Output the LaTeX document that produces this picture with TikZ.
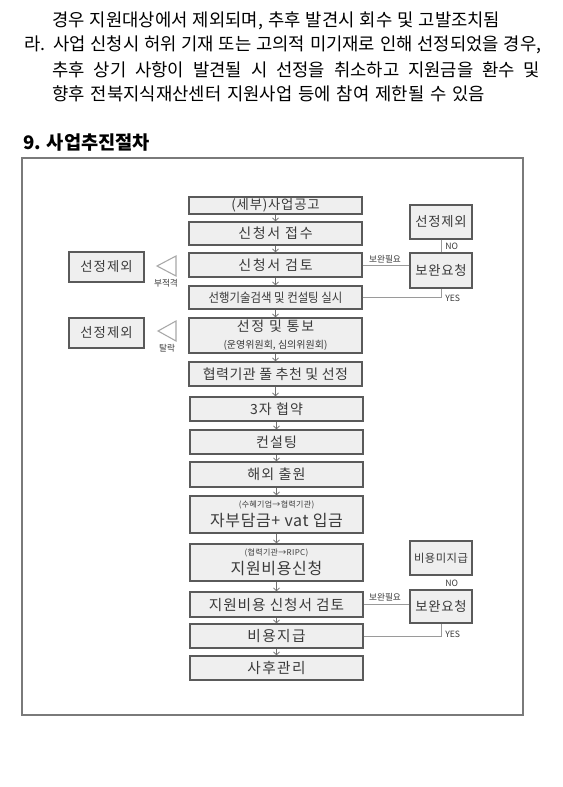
\documentclass[tikz,border=0pt]{standalone}
\usepackage{fontspec}
\setmainfont{Noto Sans CJK KR}
\usetikzlibrary{arrows.meta}
\definecolor{boxfill}{HTML}{EFEFEF}
\definecolor{boxline}{HTML}{5A5A5A}
\definecolor{txt}{HTML}{3A3A3A}
\definecolor{connc}{HTML}{9A9A9A}
\definecolor{arrc}{HTML}{707070}
\definecolor{tric}{HTML}{A8A8A8}
\definecolor{framec}{HTML}{7A7A7A}
\newcommand{\bodyf}{\fontsize{13.3}{15}\selectfont}
\newcommand{\boxf}{\fontsize{10.5}{12}\selectfont\addfontfeature{LetterSpace=8}}
\begin{document}
\begin{tikzpicture}[x=0.75pt,y=-0.75pt,
  mbox/.style={draw=boxline, fill=boxfill, line width=0.9pt, minimum width=173*0.75pt, inner sep=0pt, text=txt, align=center, font=\boxf},
  sbox/.style={draw=boxline, fill=boxfill, line width=0.9pt, minimum width=62*0.75pt, inner sep=0pt, text=txt, font=\fontsize{10}{11}\selectfont\addfontfeature{LetterSpace=6}},
  lbox/.style={draw=boxline, fill=boxfill, line width=0.9pt, minimum width=75*0.75pt, inner sep=0pt, text=txt, font=\fontsize{10}{11}\selectfont\addfontfeature{LetterSpace=8}},
  arr/.style={-{Straight Barb[length=2.2pt,width=4.5pt]}, draw=arrc, line width=0.6pt},
  conn/.style={draw=connc, line width=0.6pt},
  lab/.style={font=\fontsize{6.5}{7}\selectfont, text=txt, inner sep=0pt},
  tri/.style={draw=tric, line width=0.8pt},
  bodytxt/.style={anchor=west, inner sep=0pt, font=\bodyf, text=black}]
\useasboundingbox (0,0) rectangle (562,787);
\fill[white] (0,0) rectangle (562,787);
% top paragraph
\node[bodytxt] (t1) at (52,21) {\makebox[336pt][s]{경우 지원대상에서 제외되며, 추후 발견시 회수 및 고발조치됨}};
\node[bodytxt] (t2) at (24,45) {\makebox[387.75pt][s]{라. 사업 신청시 허위 기재 또는 고의적 미기재로 인해 선정되었을 경우,}};
\node[bodytxt] (t3) at (52,70) {\makebox[366pt][s]{추후 상기 사항이 발견될 시 선정을 취소하고 지원금을 환수 및}};
\node[bodytxt] (t4) at (52,94) {\makebox[324.75pt][s]{향후 전북지식재산센터 지원사업 등에 참여 제한될 수 있음}};
\node[anchor=west, inner sep=0pt, font=\fontsize{14}{16}\selectfont\bfseries] (head) at (23,143) {9. 사업추진절차};
% frame
\draw[framec, line width=0.8pt] (22,158) rectangle (523,715);
% main boxes
\node[mbox, minimum height=17*0.75pt, font=\fontsize{10}{11}\selectfont\addfontfeature{LetterSpace=6}] (n1) at (275.5,205.5) {(세부)사업공고};
\node[mbox, minimum height=23*0.75pt, font=\fontsize{10.5}{12}\selectfont\addfontfeature{LetterSpace=12}] (n2) at (275.5,233.5) {신청서 접수};
\node[mbox, minimum height=24*0.75pt, font=\fontsize{10.5}{12}\selectfont\addfontfeature{LetterSpace=12}] (n3) at (275.5,265) {신청서 검토};
\node[mbox, minimum height=23*0.75pt, font=\fontsize{9.5}{11}\selectfont\addfontfeature{FakeStretch=0.9}] (n4) at (275.5,297.5) {선행기술검색 및 컨설팅 실시};
\node[mbox, minimum height=35*0.75pt, font=\fontsize{10.5}{13}\selectfont] (n5) at (275.5,335.5) {{\addfontfeature{LetterSpace=12}선정 및 통보}\\{\fontsize{7.5}{9}\selectfont (운영위원회, 심의위원회)}};
\node[mbox, minimum height=24*0.75pt, font=\fontsize{10.5}{12}\selectfont\addfontfeature{LetterSpace=3}] (n6) at (275.5,374) {협력기관 풀 추천 및 선정};
\node[mbox, minimum height=24*0.75pt] (n7) at (276.5,409) {3자 협약};
\node[mbox, minimum height=24*0.75pt] (n8) at (276.5,442) {컨설팅};
\node[mbox, minimum height=25*0.75pt] (n9) at (276.5,474.5) {해외 출원};
\node[mbox, minimum height=37*0.75pt, font=\fontsize{12}{13}\selectfont\addfontfeature{LetterSpace=4}] (n10) at (276.5,514.5) {{\fontsize{6}{7}\selectfont (수혜기업→협력기관)}\\[1pt]자부담금+ vat 입금};
\node[mbox, minimum height=37*0.75pt, font=\fontsize{12}{13}\selectfont\addfontfeature{LetterSpace=4}] (n11) at (276.5,562.5) {{\fontsize{6}{7}\selectfont (협력기관→RIPC)}\\[1pt]지원비용신청};
\node[mbox, minimum height=25*0.75pt, font=\fontsize{11}{12}\selectfont\addfontfeature{LetterSpace=6}] (n12) at (276.5,604.5) {지원비용 신청서 검토};
\node[mbox, minimum height=24*0.75pt, font=\fontsize{11}{12}\selectfont\addfontfeature{LetterSpace=10}] (n13) at (276.5,636) {비용지급};
\node[mbox, minimum height=24*0.75pt, font=\fontsize{11}{12}\selectfont\addfontfeature{LetterSpace=10}] (n14) at (276.5,668) {사후관리};
% arrows
\draw[arr] (n1.south) -- (n2.north);
\draw[arr] (n2.south) -- (n3.north);
\draw[arr] (n3.south) -- (n4.north);
\draw[arr] (n4.south) -- (n5.north);
\draw[arr] (n5.south) -- (n6.north);
\draw[arr] (n6.south) -- (n7.north -| n6.south);
\draw[arr] (n7.south) -- (n8.north);
\draw[arr] (n8.south) -- (n9.north);
\draw[arr] (n9.south) -- (n10.north);
\draw[arr] (n10.south) -- (n11.north);
\draw[arr] (n11.south) -- (n12.north);
\draw[arr] (n12.south) -- (n13.north);
\draw[arr] (n13.south) -- (n14.north);
% right boxes (upper)
\node[sbox, minimum height=34*0.75pt] (rb1) at (441,222) {선정제외};
\node[sbox, minimum height=35*0.75pt] (rb2) at (441,270.5) {보완요청};
\draw[conn] (n3.east) -- (n3.east -| rb2.west);
\draw[conn] (rb1.south) -- (rb2.north);
\draw[conn] (n4.east) -| (rb2.south);
\node[lab, anchor=south] (l1) at (385,263) {보완필요};
\node[lab, anchor=west] (l2) at (445,246) {NO};
\node[lab, anchor=west] (l3) at (445,298) {YES};
% right boxes (lower)
\node[sbox, minimum height=34*0.75pt, font=\fontsize{8.5}{10}\selectfont\addfontfeature{LetterSpace=4}] (rb3) at (441,558) {비용미지급};
\node[sbox, minimum height=33*0.75pt] (rb4) at (441,606.5) {보완요청};
\draw[conn] (n12.east) -- (n12.east -| rb4.west);
\draw[conn] (n13.east) -| (rb4.south);
\node[lab, anchor=south] (l4) at (385,601) {보완필요};
\node[lab, anchor=west] (l5) at (445,583) {NO};
\node[lab, anchor=west] (l6) at (445,634) {YES};
% left boxes
\node[lbox, minimum height=30*0.75pt] (lb1) at (106.5,267) {선정제외};
\node[lbox, minimum height=30*0.75pt] (lb2) at (106.5,333) {선정제외};
\draw[tri] (157,266) -- (176,256) -- (176,276) -- cycle;
\draw[tri] (158,331) -- (176,321) -- (176,341) -- cycle;
\node[lab] (l7) at (166,283) {부적격};
\node[lab] (l8) at (167,348) {탈락};
\end{tikzpicture}
\end{document}
